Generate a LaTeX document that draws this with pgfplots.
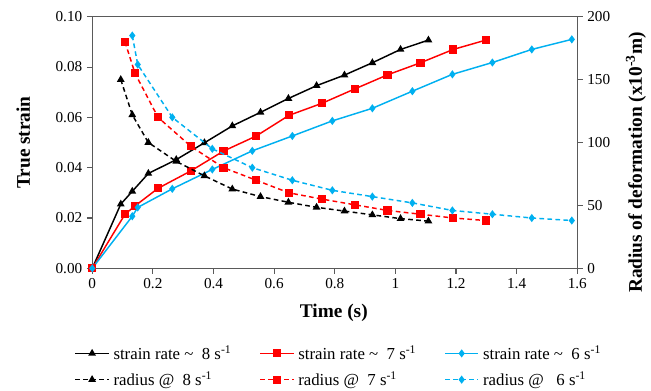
\documentclass[border=0pt]{standalone}
\usepackage{fontspec}
\setmainfont{Liberation Serif}
\usepackage{pgfplots}
\pgfplotsset{compat=1.18}
\definecolor{cblue}{RGB}{0,176,240}
\definecolor{cred}{RGB}{255,0,0}
\definecolor{axgray}{RGB}{90,90,90}
\pgfplotsset{
 base/.style={
  scale only axis, width=363.75pt, height=188.7pt,
  at={(69.2pt,92pt)}, anchor=south west,
  xmin=0, xmax=1.6, clip=false,
  tick align=outside, major tick length=4pt,
  axis line style={axgray, line width=0.8pt},
  every tick/.style={axgray, line width=0.8pt},
  ticklabel style={font=\fontsize{11.4}{13}\selectfont, text=black},
  /pgf/number format/assume math mode=true,
 },
 sol/.style={line width=1.1pt},
 das/.style={line width=1.1pt, dash pattern=on 3.5pt off 2.5pt},
 m8/.style={black, mark=triangle*, mark size=2.3pt, mark options={solid}},
 m7/.style={cred, mark=square*, mark size=2.5pt, mark options={solid}},
 m6/.style={cblue, mark=diamond*, mark size=2.2pt, mark options={solid}},
}
\begin{document}
\begin{tikzpicture}
\path[use as bounding box] (0,0) rectangle (488.25pt,293.25pt);
\begin{axis}[base,
  ymin=0, ymax=0.1, ytick={0,0.02,0.04,0.06,0.08,0.1},
  yticklabel style={/pgf/number format/fixed, /pgf/number format/fixed zerofill, /pgf/number format/precision=2},
  xtick={0,0.2,0.4,0.6,0.8,1,1.2,1.4,1.6},
  xticklabel style={/pgf/number format/fixed},
  scaled y ticks=false,
  ytick pos=left, xtick pos=bottom,
  xlabel={Time (s)}, ylabel={True strain},
  label style={font=\bfseries\fontsize{14.5}{17}\selectfont},
  xlabel style={at={(axis description cs:0.498,-0.178)}, anchor=center},
  ylabel style={at={(axis description cs:-0.142,0.5)}, anchor=center},
  legend columns=3,
  legend cell align=left,
  legend image code/.code={\draw[mark repeat=2,mark phase=2,#1] plot coordinates {(0pt,0pt) (12.5pt,0pt) (25pt,0pt)};},
  legend style={at={(axis description cs:-0.045,-0.285)}, anchor=north west, draw=none, fill=none,
    font=\fontsize{12.6}{14}\selectfont, row sep=4pt,
    /tikz/every odd column/.append style={column sep=1pt},
    /tikz/every even column/.append style={column sep=19pt}},
]
\addplot[m8, sol] coordinates {(0,0) (0.094,0.0255) (0.132,0.0306) (0.185,0.0377) (0.277,0.0432) (0.37,0.0499) (0.462,0.0566) (0.555,0.0620) (0.647,0.0675) (0.74,0.0726) (0.832,0.0768) (0.924,0.0817) (1.017,0.0870) (1.109,0.0907)};
\addlegendentry{strain rate \textasciitilde\ \ 8 s\textsuperscript{-1}}
\addplot[m7, sol] coordinates {(0,0) (0.108,0.0215) (0.141,0.0248) (0.217,0.0318) (0.325,0.0387) (0.433,0.0466) (0.541,0.0526) (0.649,0.0608) (0.758,0.0656) (0.866,0.0713) (0.974,0.0769) (1.083,0.0817) (1.191,0.0870) (1.298,0.0907)};
\addlegendentry{strain rate \textasciitilde\ \ 7 s\textsuperscript{-1}}
\addplot[m6, sol] coordinates {(0,0) (0.132,0.0207) (0.150,0.0242) (0.264,0.0316) (0.396,0.0393) (0.528,0.0467) (0.66,0.0526) (0.792,0.0586) (0.924,0.0636) (1.056,0.0704) (1.188,0.0771) (1.32,0.0818) (1.45,0.0870) (1.582,0.0910)};
\addlegendentry{strain rate \textasciitilde\ \ 6 s\textsuperscript{-1}}
\addlegendimage{m8, das}
\addlegendentry{radius @\ \ 8 s\textsuperscript{-1}}
\addlegendimage{m7, das}
\addlegendentry{radius @\ \ 7 s\textsuperscript{-1}}
\addlegendimage{m6, das}
\addlegendentry{radius @\ \ \ 6 s\textsuperscript{-1}}
\end{axis}
\begin{axis}[base,
  axis x line=none, axis y line*=right,
  ymin=0, ymax=200, ytick={0,50,100,150,200},
]
\addplot[m8, das] coordinates {(0.094,150) (0.132,122) (0.185,100) (0.277,85) (0.37,73.5) (0.462,63) (0.555,57) (0.647,52.5) (0.74,48.5) (0.832,45.5) (0.924,42.5) (1.017,39.5) (1.109,37.5)};
\addplot[m7, das] coordinates {(0.108,180) (0.141,155) (0.217,120) (0.325,97) (0.433,80) (0.541,70) (0.649,60) (0.758,55) (0.866,50.5) (0.974,46) (1.083,43) (1.191,40) (1.298,38)};
\addplot[m6, das] coordinates {(0.132,185) (0.150,162) (0.264,120) (0.396,95) (0.528,80) (0.66,70) (0.792,62) (0.924,57) (1.056,52) (1.188,46) (1.32,43) (1.45,40) (1.582,38)};
\node[rotate=90, anchor=center, font=\bfseries\fontsize{14.5}{17}\selectfont] at (axis description cs:1.121,0.42) {Radius of deformation (x10\textsuperscript{-3}m)};
\end{axis}
\end{tikzpicture}
\end{document}
